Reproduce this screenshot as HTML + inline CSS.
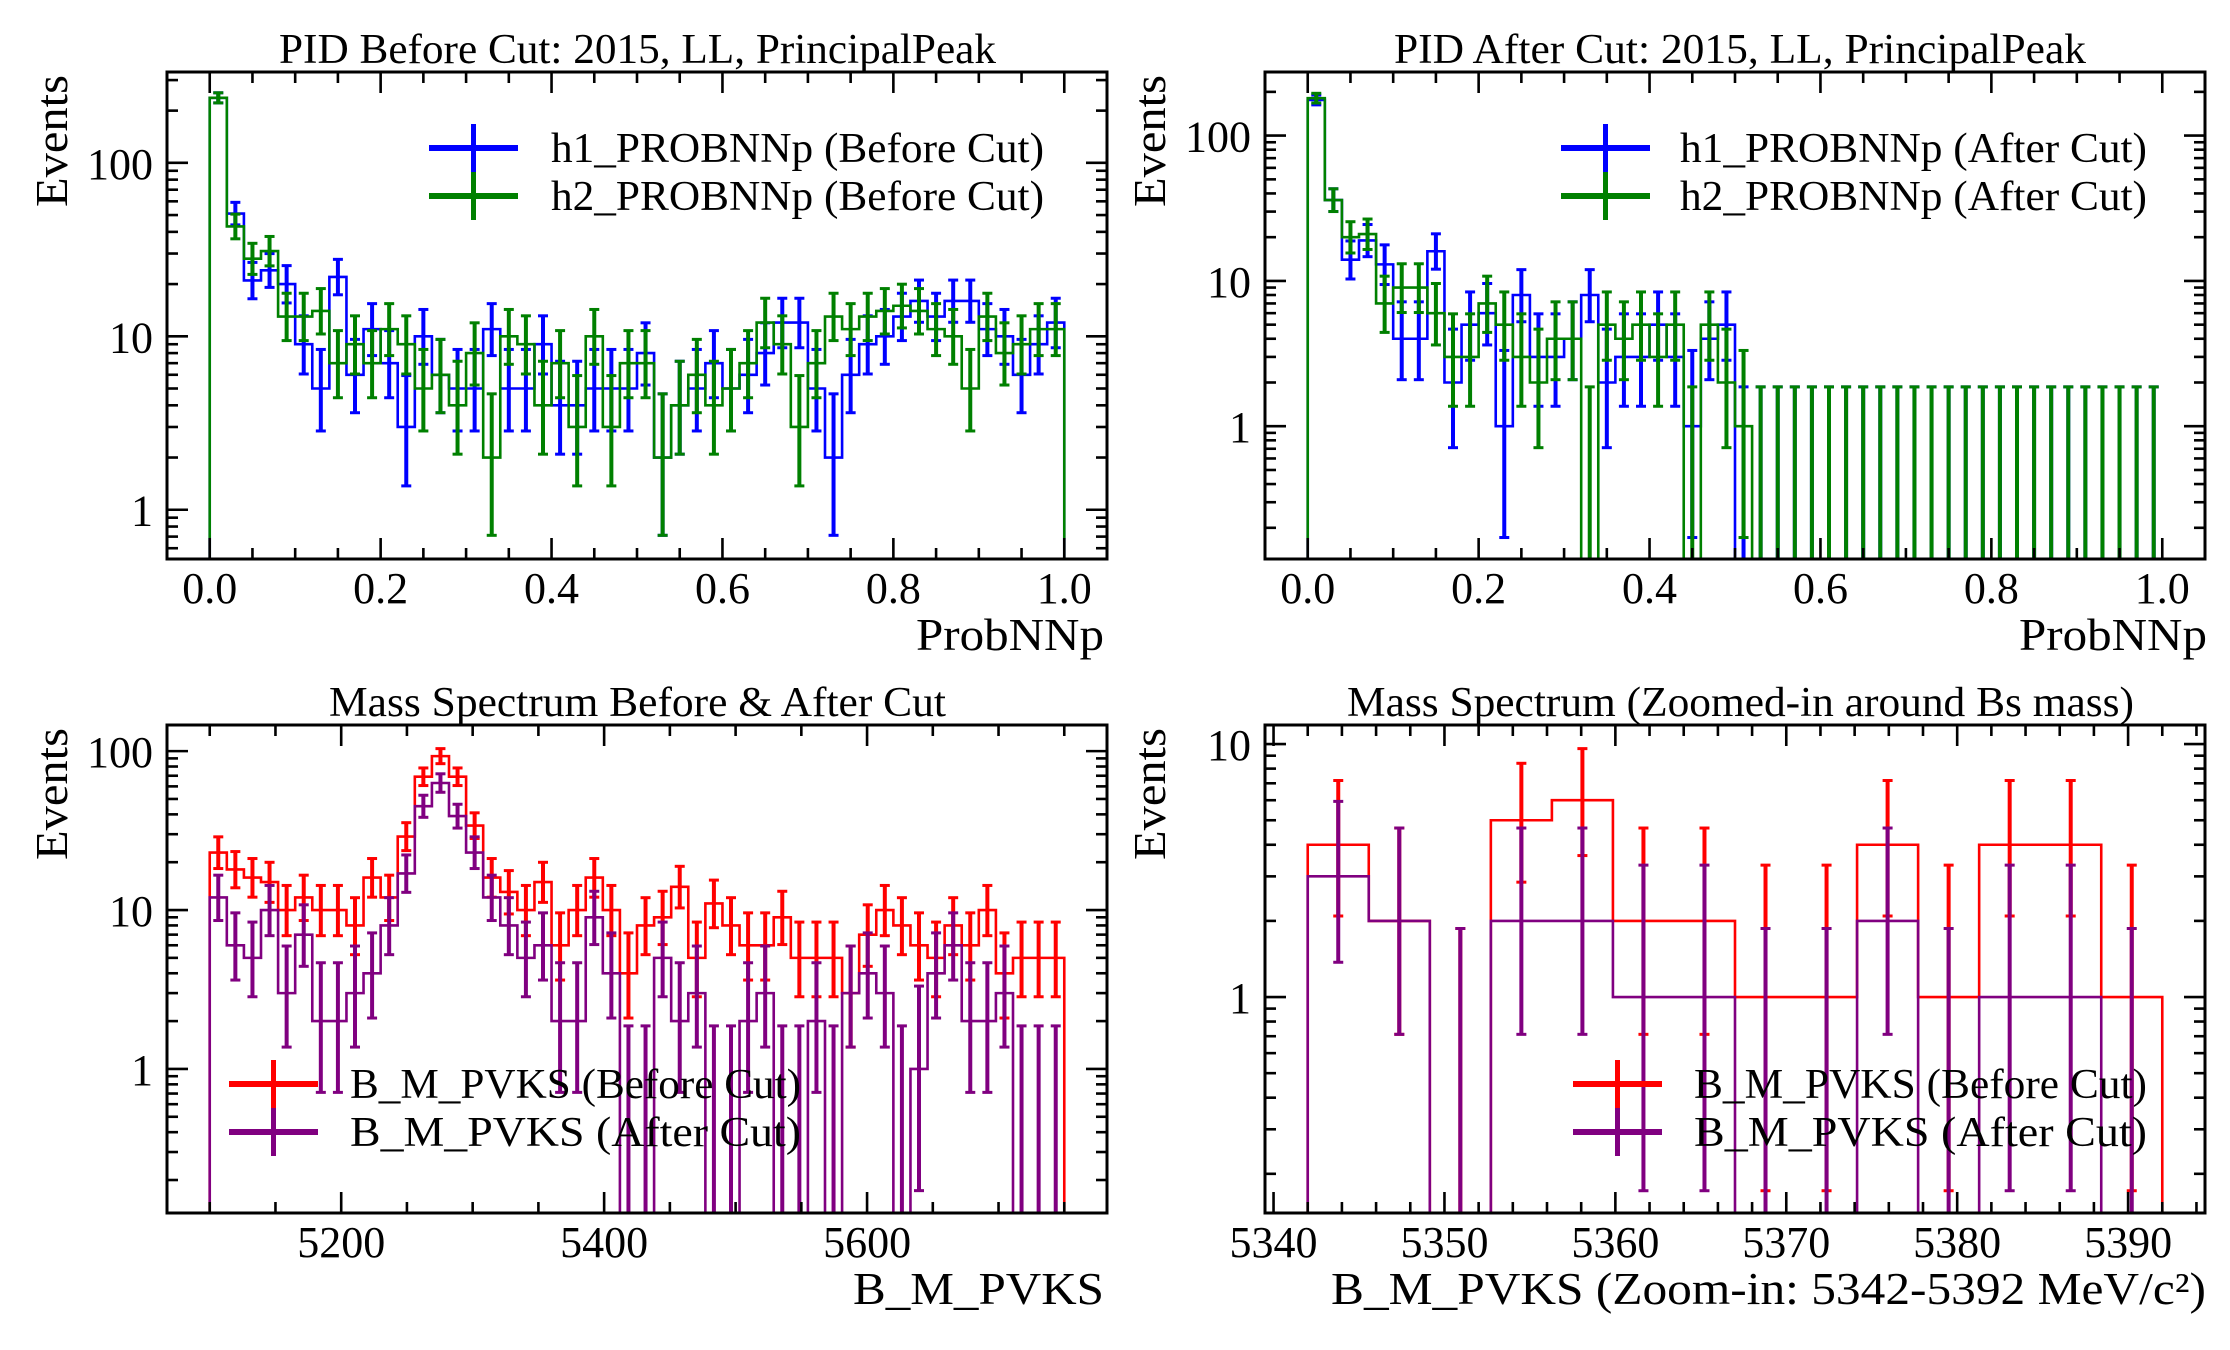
<!DOCTYPE html>
<html>
<head>
<meta charset="utf-8">
<style>
html,body{margin:0;padding:0;background:#fff;}
svg{display:block;}
text{font-family:"Liberation Serif","DejaVu Serif",serif;fill:#000;}
</style>
</head>
<body>
<svg id="chart" width="2230" height="1350" viewBox="0 0 2230 1350" xmlns="http://www.w3.org/2000/svg">
<rect x="0" y="0" width="2230" height="1350" fill="#fff"/>
</svg>
<script>
// ---- Panel 1: PID before cut (50 bins, 0..1)
const p1H1 = [237,51,21,24,20,9,5,22,6,11,7,3,10,6,5,5,11,5,5,9,4,4,5,5,5,8,2,4,5,7,5,6,8,12,12,5,2,6,9,10,13,16,13,16,16,11,10,6,9,12];
const p1H2 = [237,43,28,31,13,13,14,7,9,7,11,9,5,6,4,8,2,10,9,4,7,3,10,3,7,7,2,4,6,4,5,7,12,9,3,7,13,11,13,14,15,14,11,10,5,13,8,9,11,11];
// ---- Panel 2: PID after cut
const p2H1 = [176,36,14,19,13,4,4,16,2,5,6,1,8,3,3,4,8,2,3,3,5,3,1,4,5,0,0,0,0,0,0,0,0,0,0,0,0,0,0,0,0,0,0,0,0,0,0,0,0,0];
const p2H2 = [181,36,20,21,7,9,9,6,3,3,7,5,3,2,4,4,0,5,4,5,3,5,0,5,2,1,0,0,0,0,0,0,0,0,0,0,0,0,0,0,0,0,0,0,0,0,0,0,0,0];
// ---- Panel 3: mass spectrum (50 bins, 5100..5750)
const p3Before = [23,18,16,15,10,12,10,10,8,16,12,29,69,93,69,34,16,13,10,15,6,10,16,10,4,8,9,14,5,11,8,6,6,9,5,5,5,3,7,10,8,6,5,8,6,10,4,5,5,5];
const p3After = [12,6,5,10,3,7,2,2,3,4,8,17,45,63,39,23,12,8,5,6,2,2,9,4,0,0,5,2,3,0,0,2,3,0,0,2,0,3,4,3,0,1,4,6,2,2,3,0,0,0];
// ---- Panel 4: zoomed mass spectrum (14 bins, 5342..5392)
const p4Before = [4,2,0,5,6,2,2,1,1,4,1,4,4,1];
const p4After = [3,2,0,2,2,1,1,0,0,2,0,1,1,0];
// tick labels
const p1XTicks = ["0.0","0.2","0.4","0.6","0.8","1.0"];
const p3XTicks = ["5200","5400","5600"];
const p4XTicks = ["5340","5350","5360","5370","5380","5390"];

const NS = 'http://www.w3.org/2000/svg';
const svg = document.getElementById('chart');
function mk(tag, attrs, parent){
  const e = document.createElementNS(NS, tag);
  for (const k in attrs) e.setAttribute(k, attrs[k]);
  (parent || svg).appendChild(e);
  return e;
}
function errLo(n){ if(n<=0) return 0; return n*Math.pow(1-1/(9*n)-1/(3*Math.sqrt(n)),3); }
function errHi(n){ return n+Math.sqrt(n+0.75)+1; }

let clipId = 0;
function drawPanel(cfg){
  const A = cfg.ax;
  const g = mk('g', {});
  
  
  const X = v => A.l + (v - cfg.x0)/(cfg.x1 - cfg.x0)*(A.r - A.l);
  const ly0 = Math.log10(cfg.y0), ly1 = Math.log10(cfg.y1);
  const Y = v => v <= 0 ? A.b + 40 : A.b - (Math.log10(v) - ly0)/(ly1 - ly0)*(A.b - A.t);
  clipId++;
  const cp = mk('clipPath', {id:'clip'+clipId}, g);
  mk('rect', {x:A.l, y:A.t, width:A.r-A.l, height:A.b-A.t}, cp);
  const plot = mk('g', {'clip-path':'url(#clip'+clipId+')'}, g);
  
  
  const bw = (cfg.hi - cfg.lo)/cfg.series[0].vals.length;
  cfg.series.forEach(s => {
    const n = s.vals.length;
    let d = 'M' + X(cfg.lo) + ',' + (A.b + 40);
    for (let i = 0; i < n; i++){
      const y = Y(s.vals[i]);
      d += ' L' + X(cfg.lo + i*bw) + ',' + y + ' L' + X(cfg.lo + (i+1)*bw) + ',' + y;
    }
    d += ' L' + X(cfg.hi) + ',' + (A.b + 40);
    const path = mk('path', {d:d, fill:'none', stroke:s.color, 'stroke-width':2.6}, plot);
    
    
    const eg = mk('g', {stroke:s.color}, plot);
    
    
    for (let i = 0; i < n; i++){
      const v = s.vals[i];
      const cx = X(cfg.lo + (i+0.5)*bw);
      const yh = Y(errHi(v)), yl = Y(errLo(v));
      const bar = mk('line', {x1:cx, x2:cx, y1:yh, y2:yl, 'stroke-width':4}, eg);
      
      
      mk('line', {x1:cx-5, x2:cx+5, y1:yh, y2:yh, 'stroke-width':3}, eg);
      if (v > 0) mk('line', {x1:cx-5, x2:cx+5, y1:yl, y2:yl, 'stroke-width':3}, eg);
    }
  });
  // ticks
  const tk = mk('g', {stroke:'#000', 'stroke-width':2.6}, g);
  
  
  const eps = 1e-9;
  const mStart = Math.ceil((cfg.x0 - eps)/cfg.minor)*cfg.minor;
  for (let v = mStart; v <= cfg.x1 + eps; v += cfg.minor){
    const major = Math.abs(v/cfg.major - Math.round(v/cfg.major)) < 1e-6;
    const L = major ? 21 : 11, x = X(v);
    mk('line', {x1:x, x2:x, y1:A.b, y2:A.b-L}, tk);
    mk('line', {x1:x, x2:x, y1:A.t, y2:A.t+L}, tk);
  }
  for (let d = Math.floor(ly0); d <= Math.ceil(ly1); d++){
    for (let k = 1; k <= 9; k++){
      const v = k*Math.pow(10, d);
      if (v < cfg.y0 || v > cfg.y1) continue;
      const L = k === 1 ? 21 : 11, y = Y(v);
      mk('line', {x1:A.l, x2:A.l+L, y1:y, y2:y}, tk);
      mk('line', {x1:A.r, x2:A.r-L, y1:y, y2:y}, tk);
      if (k === 1){
        const t = mk('text', {x:A.l-14, y:y+16, 'font-size':44, 'text-anchor':'end'}, g);
        
        
        t.textContent = v >= 1 ? String(Math.round(v)) : String(v);
      }
    }
  }
  cfg.xticks.forEach(lbl => {
    const t = mk('text', {x:X(parseFloat(lbl)), y:A.b+44, 'font-size':44, 'text-anchor':'middle'}, g);
    
    
    t.textContent = lbl;
  });
  const fr = mk('rect', {x:A.l, y:A.t, width:A.r-A.l, height:A.b-A.t, fill:'none', stroke:'#000', 'stroke-width':3}, g);
  
  
  // title
  const ti = mk('text', {x:cfg.title.x, y:A.t-9, 'font-size':42, textLength:cfg.title.w, lengthAdjust:'spacingAndGlyphs'}, g);
  
  
  ti.textContent = cfg.title.text;
  const xl = mk('text', {x:cfg.xlabel.x, y:A.b+91, 'font-size':46, textLength:cfg.xlabel.w, lengthAdjust:'spacingAndGlyphs'}, g);
  
  
  xl.textContent = cfg.xlabel.text;
  const cy = A.t + 69;
  const yl = mk('text', {x:0, y:0, 'font-size':46, textLength:132, lengthAdjust:'spacingAndGlyphs', transform:'translate('+(A.l-100)+','+(cy+66)+') rotate(-90)'}, g);
  
  
  yl.textContent = 'Events';
  // legend
  cfg.series.forEach((s, i) => {
    const ly = cfg.legend.y + i*48;
    const lg = mk('g', {}, g);
    
    
    mk('line', {x1:cfg.legend.x, x2:cfg.legend.x+89, y1:ly, y2:ly, stroke:s.color, 'stroke-width':6}, lg);
    mk('line', {x1:cfg.legend.x+44.5, x2:cfg.legend.x+44.5, y1:ly-24, y2:ly+24, stroke:s.color, 'stroke-width':5}, lg);
    const lt = mk('text', {x:cfg.legend.tx, y:ly+14, 'font-size':42, textLength:cfg.legend.tw, lengthAdjust:'spacingAndGlyphs'}, lg);
    lt.textContent = s.label;
  });
}

drawPanel({name:'pid-before-cut-panel', ax:{l:167,r:1107,t:72,b:559}, x0:-0.05, x1:1.05, y0:0.52, y1:334,
  lo:0, hi:1, major:0.2, minor:0.05, xticks:p1XTicks,
  series:[{id:'h1-before',vals:p1H1,color:'#0000ff',label:'h1_PROBNNp (Before Cut)'},
          {id:'h2-before',vals:p1H2,color:'#008000',label:'h2_PROBNNp (Before Cut)'}],
  title:{text:'PID Before Cut: 2015, LL, PrincipalPeak', x:279, w:717},
  xlabel:{text:'ProbNNp', x:916, w:188},
  legend:{x:429, y:148, tx:551, tw:493}});

drawPanel({name:'pid-after-cut-panel', ax:{l:1265,r:2205,t:72,b:559}, x0:-0.05, x1:1.05, y0:0.122, y1:274,
  lo:0, hi:1, major:0.2, minor:0.05, xticks:p1XTicks,
  series:[{id:'h1-after',vals:p2H1,color:'#0000ff',label:'h1_PROBNNp (After Cut)'},
          {id:'h2-after',vals:p2H2,color:'#008000',label:'h2_PROBNNp (After Cut)'}],
  title:{text:'PID After Cut: 2015, LL, PrincipalPeak', x:1394, w:692},
  xlabel:{text:'ProbNNp', x:2019, w:188},
  legend:{x:1561, y:148, tx:1680, tw:467}});

drawPanel({name:'mass-spectrum-panel', ax:{l:167,r:1107,t:725,b:1213}, x0:5067.5, x1:5782.5, y0:0.124, y1:146,
  lo:5100, hi:5750, major:200, minor:50, xticks:p3XTicks,
  series:[{id:'mass-before',vals:p3Before,color:'#ff0000',label:'B_M_PVKS (Before Cut)'},
          {id:'mass-after',vals:p3After,color:'#800080',label:'B_M_PVKS (After Cut)'}],
  title:{text:'Mass Spectrum Before & After Cut', x:329, w:617},
  xlabel:{text:'B_M_PVKS', x:853, w:251},
  legend:{x:229, y:1084, tx:350, tw:451}});

drawPanel({name:'mass-zoom-panel', ax:{l:1265,r:2205,t:725,b:1213}, x0:5339.5, x1:5394.5, y0:0.14, y1:11.9,
  lo:5342, hi:5392, major:10, minor:2, xticks:p4XTicks,
  series:[{id:'zoom-before',vals:p4Before,color:'#ff0000',label:'B_M_PVKS (Before Cut)'},
          {id:'zoom-after',vals:p4After,color:'#800080',label:'B_M_PVKS (After Cut)'}],
  title:{text:'Mass Spectrum (Zoomed-in around Bs mass)', x:1347, w:787},
  xlabel:{text:'B_M_PVKS (Zoom-in: 5342-5392 MeV/c²)', x:1331, w:875},
  legend:{x:1573, y:1084, tx:1694, tw:453}});
</script>
</body>
</html>
